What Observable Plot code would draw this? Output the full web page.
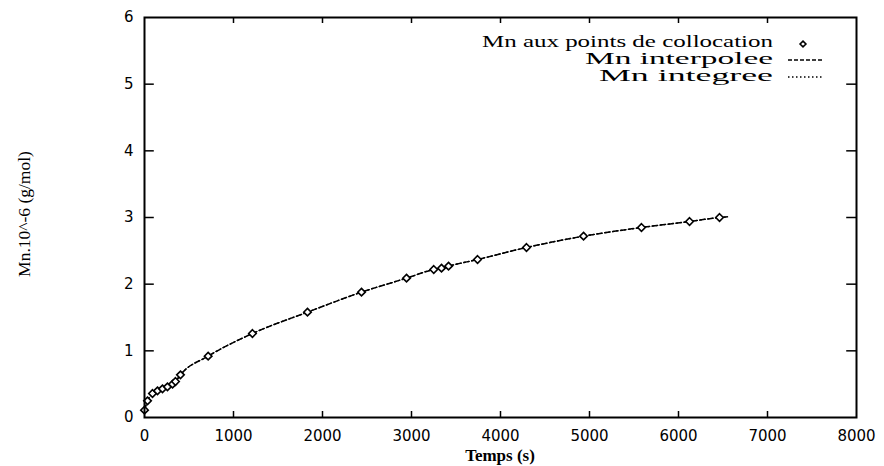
<!DOCTYPE html>
<html>
<head>
<meta charset="utf-8">
<script src="https://cdn.jsdelivr.net/npm/d3@7"></script>
<script src="https://cdn.jsdelivr.net/npm/@observablehq/plot@0.6"></script>
<style>
  html, body { margin: 0; padding: 0; background: #fff; }
  #chart { width: 884px; height: 466px; }
</style>
</head>
<body>
<div id="chart"></div>
<script>
// Collocation points: time (s) and Mn.10^-6 (g/mol)
const tPoints = [0, 34, 90, 146, 202, 258, 315, 348, 404, 715, 1213, 1831, 2438, 2944, 3250, 3337, 3416, 3742, 4292, 4933, 5584, 6124, 6461];
const mnPoints = [0.11, 0.25, 0.36, 0.40, 0.43, 0.46, 0.50, 0.54, 0.64, 0.92, 1.26, 1.58, 1.88, 2.09, 2.22, 2.24, 2.27, 2.37, 2.55, 2.72, 2.85, 2.94, 3.0];
// Interpolated and integrated curves
const tCurve = [0, 34, 90, 146, 202, 258, 315, 348, 404, 715, 1213, 1831, 2438, 2944, 3250, 3337, 3416, 3742, 4292, 4933, 5584, 6124, 6461, 6550];
const mnInterpolee = [0.11, 0.25, 0.36, 0.40, 0.43, 0.46, 0.50, 0.54, 0.64, 0.92, 1.26, 1.58, 1.88, 2.09, 2.22, 2.24, 2.27, 2.37, 2.55, 2.72, 2.85, 2.94, 3.0, 3.01];
const mnIntegree = [0.11, 0.25, 0.36, 0.40, 0.43, 0.46, 0.50, 0.54, 0.64, 0.92, 1.26, 1.58, 1.88, 2.09, 2.22, 2.24, 2.27, 2.37, 2.55, 2.72, 2.85, 2.94, 3.0, 3.01];
// Ticks
const xTicks = [0, 1000, 2000, 3000, 4000, 5000, 6000, 7000, 8000];
const yTicks = [0, 1, 2, 3, 4, 5, 6];
// Texts
const legendLabels = ["Mn aux points de collocation", "Mn interpolee", "Mn integree"];
const xLabel = "Temps (s)";
const yLabel = "Mn.10^-6 (g/mol)";

const points = tPoints.map((t, i) => ({t, mn: mnPoints[i]}));
const interp = tCurve.map((t, i) => ({t, mn: mnInterpolee[i]}));
const integ = tCurve.map((t, i) => ({t, mn: mnIntegree[i]}));

const svg = Plot.plot({
  width: 884,
  height: 466,
  marginLeft: 144,
  marginRight: 28,
  marginTop: 17,
  marginBottom: 49,
  style: {fontFamily: "DejaVu Sans", fontSize: "15px", color: "#000", background: "#fff"},
  x: {domain: [0, 8000]},
  y: {domain: [0, 6]},
  marks: [
    Plot.axisX(xTicks, {tickSize: 0, tickPadding: 13, label: null, fontSize: 15, tickFormat: d => String(d)}),
    Plot.axisY(yTicks, {tickSize: 0, tickPadding: 11, label: null, fontSize: 15, tickFormat: d => String(d)}),
    // inward ticks on all four sides
    Plot.ruleX(xTicks.slice(1, -1), {x: d => d, y1: 0, y2: 0.09, stroke: "#000", strokeWidth: 1.5}),
    Plot.ruleX(xTicks.slice(1, -1), {x: d => d, y1: 6, y2: 5.91, stroke: "#000", strokeWidth: 1.5}),
    Plot.ruleY(yTicks.slice(1, -1), {y: d => d, x1: 0, x2: 110, stroke: "#000", strokeWidth: 1.5}),
    Plot.ruleY(yTicks.slice(1, -1), {y: d => d, x1: 8000, x2: 7890, stroke: "#000", strokeWidth: 1.5}),
    Plot.line(integ, {x: "t", y: "mn", curve: "monotone-x", stroke: "#000", strokeWidth: 1.3, strokeDasharray: "1.5,2.5"}),
    Plot.line(interp, {x: "t", y: "mn", curve: "monotone-x", stroke: "#000", strokeWidth: 1.5, strokeDasharray: "5,3"}),
    Plot.dot(points, {x: "t", y: "mn", symbol: "diamond2", r: 3.4, stroke: "#000", strokeWidth: 1.6, fill: "#fff"}),
    Plot.frame({stroke: "#000", strokeWidth: 2})
  ]
});

const xs = svg.scale("x"), ys = svg.scale("y");
const fRight = xs.apply(8000), fTop = ys.apply(6), fBottom = ys.apply(0), fLeft = xs.apply(0);
const g = d3.select(svg).append("g");
const serif = "Liberation Serif";
const rowOffsets = [30, 47, 64];
const rowWidths = [291, 188, 174];
legendLabels.forEach((lab, i) => {
  g.append("text").attr("x", fRight - 83 - rowWidths[i]).attr("y", fTop + rowOffsets[i])
    .attr("text-anchor", "start").attr("font-family", serif).attr("font-size", 16)
    .attr("textLength", rowWidths[i]).attr("lengthAdjust", "spacingAndGlyphs")
    .attr("fill", "#000").text(lab);
});
// legend samples
g.append("path").attr("transform", `translate(${fRight - 53},${fTop + 27})`)
  .attr("d", d3.symbol(d3.symbolDiamond2, 22)())
  .attr("fill", "#fff").attr("stroke", "#000").attr("stroke-width", 1.6);
g.append("line").attr("x1", fRight - 68).attr("x2", fRight - 34).attr("y1", fTop + 43).attr("y2", fTop + 43)
  .attr("stroke", "#000").attr("stroke-width", 1.3).attr("stroke-dasharray", "4,2");
g.append("line").attr("x1", fRight - 68).attr("x2", fRight - 34).attr("y1", fTop + 60).attr("y2", fTop + 60)
  .attr("stroke", "#000").attr("stroke-width", 1.3).attr("stroke-dasharray", "1.5,2.5");
// axis titles
g.append("text").attr("x", (fLeft + fRight) / 2).attr("y", 461).attr("text-anchor", "middle")
  .attr("font-family", serif).attr("font-size", 17).attr("font-weight", "bold").attr("fill", "#000").text(xLabel);
g.append("text").attr("transform", `translate(30,214) rotate(-90)`).attr("text-anchor", "middle")
  .attr("font-family", serif).attr("font-size", 17.5)
  .attr("fill", "#000").text(yLabel);

document.getElementById("chart").appendChild(svg);
</script>
</body>
</html>
